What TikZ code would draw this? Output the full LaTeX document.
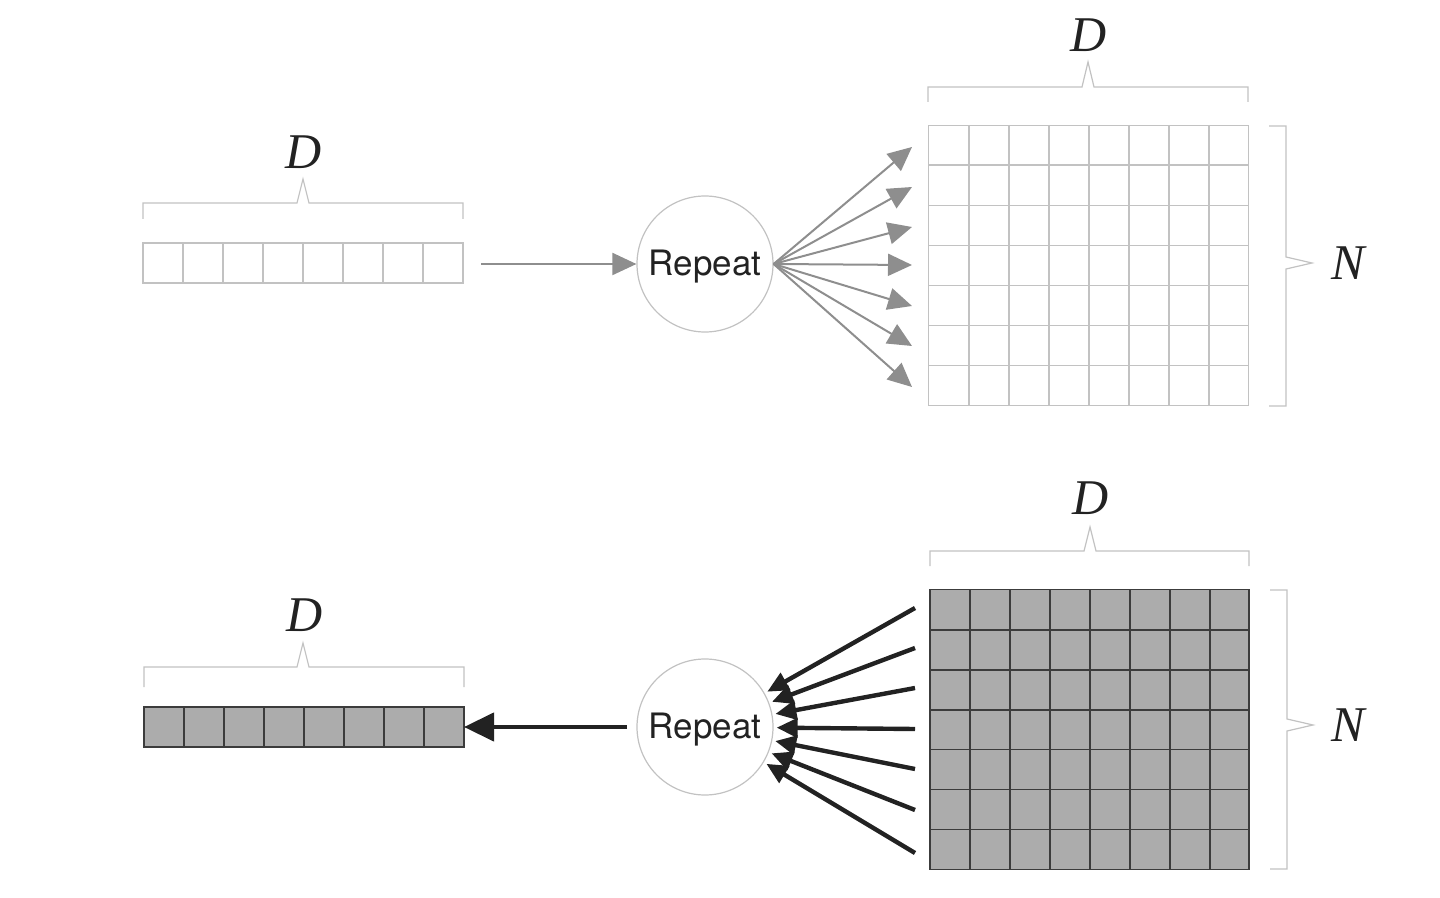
\documentclass[tikz,border=0pt]{standalone}
\usepackage{fontspec}
\setsansfont{TeX Gyre Heros}
\newfontfamily\lblfont{Liberation Serif}
\usetikzlibrary{arrows.meta}
\definecolor{lgray}{HTML}{C2C2C2}
\definecolor{agray}{HTML}{8E8E8E}
\definecolor{cfill}{HTML}{ACACAC}
\definecolor{cline}{HTML}{3C3C3C}
\definecolor{dark}{HTML}{222222}
\begin{document}
\begin{tikzpicture}[x=0.5pt,y=-0.5pt,
  lbl/.style={font=\lblfont\itshape\fontsize{25}{28}\selectfont, inner sep=0pt, text=dark},
  brc/.style={draw=lgray, line width=0.6pt},
  emptybox/.style={draw=lgray, line width=0.6pt, inner sep=0pt, outer sep=0pt},
  fullbox/.style={draw=cline, fill=cfill, line width=0.8pt, inner sep=0pt, outer sep=0pt},
  rep/.style={circle, draw=lgray, line width=0.6pt, minimum size=68pt, inner sep=0pt,
    font=\sffamily\fontsize{17.5}{19}\selectfont, text=dark},
  fanout/.style={draw=agray, line width=1pt, -{Triangle[length=12pt,width=11pt]}},
  fanin/.style={draw=dark, line width=2.2pt, -{Triangle[length=10.5pt,width=9.5pt]}, shorten >=1.5pt},
]
\useasboundingbox (0,0) rectangle (1440,898);

% ---------------- top row ----------------
\node[emptybox, minimum width=160pt, minimum height=20pt] (bar1) at (303,263) {};
\foreach \i in {1,...,7} \draw[lgray, line width=0.6pt] (143+40*\i,243) -- (143+40*\i,283);
\draw[brc] (143,219) -- (143,203) -- (297,203) -- (303,179) -- (309,203) -- (463,203) -- (463,219);
\node[lbl] (d1) at (304,152) {D};

\node[rep] (rep1) at (705,264) {};
\node[font=\sffamily\fontsize{17.5}{19}\selectfont, text=dark, inner sep=0pt] (r1t) at (705,267) {Repeat};
\draw[agray, line width=1pt, -{Triangle[length=12pt,width=11pt]}] (481,264) -- (rep1.west);

\node[emptybox, minimum width=160pt, minimum height=140pt] (grid1) at (1088.5,265.5) {};
\foreach \i in {1,...,7} \draw[lgray, line width=0.6pt] (929+40*\i,125) -- (929+40*\i,406);
\foreach \j in {1,...,6} \draw[lgray, line width=0.6pt] (929,125+40.1*\j) -- (1248,125+40.1*\j);
\draw[brc] (928,102) -- (928,87) -- (1082,87) -- (1088,62) -- (1094,87) -- (1248,87) -- (1248,102);
\node[lbl] (d2) at (1089,35) {D};
\draw[brc] (1269,126) -- (1286,126) -- (1286,257) -- (1312,263) -- (1286,269) -- (1286,406) -- (1269,406);
\node[lbl] (n1) at (1348,263) {N};

\foreach \k/\yy in {1/147,2/187,3/227,4/265,5/306,6/346,7/387}
  \coordinate (t\k) at (912,\yy);
\foreach \k in {1,...,7} \draw[fanout] (rep1.east) -- (t\k);

% ---------------- bottom row ----------------
\node[fullbox, minimum width=160pt, minimum height=20pt] (bar2) at (304,727) {};
\foreach \i in {1,...,7} \draw[cline, line width=0.8pt] (144+40*\i,707) -- (144+40*\i,747);
\draw[brc] (144,687) -- (144,667) -- (297,667) -- (303,643) -- (309,667) -- (464,667) -- (464,687);
\node[lbl] (d3) at (305,615) {D};

\node[rep] (rep2) at (705,727) {};
\node[font=\sffamily\fontsize{17.5}{19}\selectfont, text=dark, inner sep=0pt] (r2t) at (705,730) {Repeat};
\draw[dark, line width=2.2pt, -{Triangle[length=15pt,width=14pt]}] (627,727) -- (bar2.east);

\node[fullbox, minimum width=159.5pt, minimum height=140pt] (grid2) at (1089.5,729.5) {};
\foreach \i in {1,...,7} \draw[cline, line width=0.8pt] (930+40*\i,590) -- (930+40*\i,869);
\foreach \j in {1,...,6} \draw[cline, line width=0.8pt] (930,590+39.9*\j) -- (1249,590+39.9*\j);
\draw[brc] (930,566) -- (930,551) -- (1084,551) -- (1090,527) -- (1096,551) -- (1249,551) -- (1249,566);
\node[lbl] (d4) at (1091,498) {D};
\draw[brc] (1270,590) -- (1287,590) -- (1287,719) -- (1313,725) -- (1287,731) -- (1287,869) -- (1270,869);
\node[lbl] (n2) at (1348,725) {N};

\foreach \k/\yy in {1/608,2/648,3/688,4/729,5/769,6/810,7/853}
  \coordinate (s\k) at (915,\yy);
\foreach \k in {1,...,7} \draw[fanin] (s\k) -- (rep2);
\end{tikzpicture}
\end{document}
